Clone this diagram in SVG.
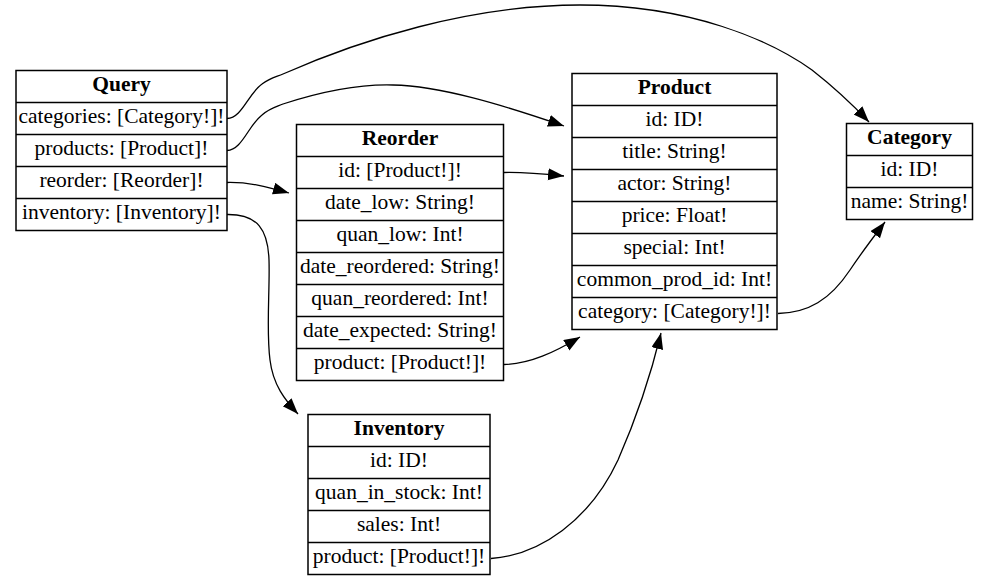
<svg xmlns="http://www.w3.org/2000/svg" width="988" height="586" viewBox="0 0 988 586">
<style>
.bg{fill:#ffffff}
.box{fill:#ffffff;stroke:#000;stroke-width:1.5}
.sep{stroke:#000;stroke-width:1.5}
.t{font-family:"Liberation Serif","Times New Roman",serif;font-size:21.5px;text-anchor:middle;fill:#000}
.h{font-weight:bold}
.e{fill:none;stroke:#000;stroke-width:1.3}
</style>
<defs>
<marker id="arr" markerUnits="userSpaceOnUse" markerWidth="17" markerHeight="13" refX="16" refY="6" orient="auto">
<path d="M0,0 L16,6 L0,12 z" fill="#000"/>
</marker>
</defs>
<rect class="bg" x="0" y="0" width="988" height="586"/>
<g id="connectors">
<path class="e" marker-end="url(#arr)" d="M227,118.5 C242,118 248,94 262,84 C270,78 276,77 283,74 C360,40 470,5 580,5 C690,5 770,40 812,70 C835,88 852,104 869,122"/>
<path class="e" marker-end="url(#arr)" d="M227,150.5 C242,150 248,126 262,115 C270,108 276,107 283,104 C320,92 360,84 393,85 C440,86 500,104 564,126"/>
<path class="e" marker-end="url(#arr)" d="M227,182.5 C250,182 268,187 289,193"/>
<path class="e" marker-end="url(#arr)" d="M227,214.5 C258,214 268,230 269,260 C270,290 266,330 270,360 C273,385 285,400 298,414"/>
<path class="e" marker-end="url(#arr)" d="M504,172.5 C525,172 545,174 564,176"/>
<path class="e" marker-end="url(#arr)" d="M504,364.5 C530,364 555,352 580,337"/>
<path class="e" marker-end="url(#arr)" d="M491,558.5 C540,555 590,520 618,460 C640,410 652,370 661,333"/>
<path class="e" marker-end="url(#arr)" d="M778,313.5 C808,313 830,300 850,270 C862,252 875,235 885,222"/>
</g>
<g id="Query">
<rect class="box" x="16" y="70.5" width="211" height="160"/>
<line class="sep" x1="16" y1="102.5" x2="227" y2="102.5"/>
<line class="sep" x1="16" y1="134.5" x2="227" y2="134.5"/>
<line class="sep" x1="16" y1="166.5" x2="227" y2="166.5"/>
<line class="sep" x1="16" y1="198.5" x2="227" y2="198.5"/>
<text class="t h" x="121.5" y="91">Query</text>
<text class="t" x="121.5" y="123">categories: [Category!]!</text>
<text class="t" x="121.5" y="155">products: [Product]!</text>
<text class="t" x="121.5" y="187">reorder: [Reorder]!</text>
<text class="t" x="121.5" y="219">inventory: [Inventory]!</text>
</g>
<g id="Reorder">
<rect class="box" x="296.5" y="124.5" width="207" height="256"/>
<line class="sep" x1="296.5" y1="156.5" x2="503.5" y2="156.5"/>
<line class="sep" x1="296.5" y1="188.5" x2="503.5" y2="188.5"/>
<line class="sep" x1="296.5" y1="220.5" x2="503.5" y2="220.5"/>
<line class="sep" x1="296.5" y1="252.5" x2="503.5" y2="252.5"/>
<line class="sep" x1="296.5" y1="284.5" x2="503.5" y2="284.5"/>
<line class="sep" x1="296.5" y1="316.5" x2="503.5" y2="316.5"/>
<line class="sep" x1="296.5" y1="348.5" x2="503.5" y2="348.5"/>
<text class="t h" x="400" y="145">Reorder</text>
<text class="t" x="400" y="177">id: [Product!]!</text>
<text class="t" x="400" y="209">date_low: String!</text>
<text class="t" x="400" y="241">quan_low: Int!</text>
<text class="t" x="400" y="273">date_reordered: String!</text>
<text class="t" x="400" y="305">quan_reordered: Int!</text>
<text class="t" x="400" y="337">date_expected: String!</text>
<text class="t" x="400" y="369">product: [Product!]!</text>
</g>
<g id="Product">
<rect class="box" x="572" y="73.5" width="205" height="256"/>
<line class="sep" x1="572" y1="105.5" x2="777" y2="105.5"/>
<line class="sep" x1="572" y1="137.5" x2="777" y2="137.5"/>
<line class="sep" x1="572" y1="169.5" x2="777" y2="169.5"/>
<line class="sep" x1="572" y1="201.5" x2="777" y2="201.5"/>
<line class="sep" x1="572" y1="233.5" x2="777" y2="233.5"/>
<line class="sep" x1="572" y1="265.5" x2="777" y2="265.5"/>
<line class="sep" x1="572" y1="297.5" x2="777" y2="297.5"/>
<text class="t h" x="674.5" y="94">Product</text>
<text class="t" x="674.5" y="126">id: ID!</text>
<text class="t" x="674.5" y="158">title: String!</text>
<text class="t" x="674.5" y="190">actor: String!</text>
<text class="t" x="674.5" y="222">price: Float!</text>
<text class="t" x="674.5" y="254">special: Int!</text>
<text class="t" x="674.5" y="286">common_prod_id: Int!</text>
<text class="t" x="674.5" y="318">category: [Category!]!</text>
</g>
<g id="Category">
<rect class="box" x="846.5" y="123.5" width="126" height="96"/>
<line class="sep" x1="846.5" y1="155.5" x2="972.5" y2="155.5"/>
<line class="sep" x1="846.5" y1="187.5" x2="972.5" y2="187.5"/>
<text class="t h" x="909.5" y="144">Category</text>
<text class="t" x="909.5" y="176">id: ID!</text>
<text class="t" x="909.5" y="208">name: String!</text>
</g>
<g id="Inventory">
<rect class="box" x="308" y="414.5" width="182" height="160"/>
<line class="sep" x1="308" y1="446.5" x2="490" y2="446.5"/>
<line class="sep" x1="308" y1="478.5" x2="490" y2="478.5"/>
<line class="sep" x1="308" y1="510.5" x2="490" y2="510.5"/>
<line class="sep" x1="308" y1="542.5" x2="490" y2="542.5"/>
<text class="t h" x="399" y="435">Inventory</text>
<text class="t" x="399" y="467">id: ID!</text>
<text class="t" x="399" y="499">quan_in_stock: Int!</text>
<text class="t" x="399" y="531">sales: Int!</text>
<text class="t" x="399" y="563">product: [Product!]!</text>
</g>
</svg>
